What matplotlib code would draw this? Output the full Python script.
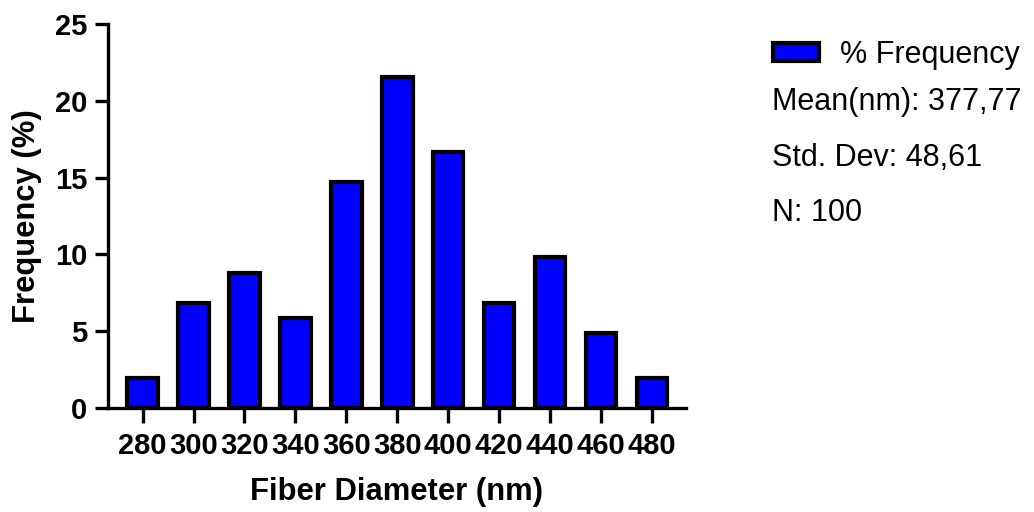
import matplotlib
matplotlib.use("Agg")
import matplotlib.pyplot as plt
from matplotlib.patches import Patch

plt.rcParams['font.family'] = ['Liberation Sans', 'DejaVu Sans']

categories = ["280", "300", "320", "340", "360", "380", "400", "420", "440", "460", "480"]
frequency = [1.96, 6.86, 8.82, 5.88, 14.71, 21.57, 16.67, 6.86, 9.80, 4.90, 1.96]
y_ticks = [0, 5, 10, 15, 20, 25]
stats_lines = ["Mean(nm): 377,77", "Std. Dev: 48,61", "N: 100"]
legend_label = "% Frequency"

W, H = 1034, 512
fig = plt.figure(figsize=(W / 100, H / 100), dpi=100)
ax = fig.add_axes([108 / W, 1 - 408 / H, (686 - 108) / W, (408 - 24) / H])

x = list(range(len(categories)))
ax.bar(x, frequency, width=0.6, color="#0000ff", edgecolor="black", linewidth=3.0, zorder=2)

ax.set_xlim(-0.68, 10.67)
ax.set_ylim(0, 25)
ax.set_xticks(x)
ax.set_xticklabels(categories)
ax.set_yticks(y_ticks)

for s in ["top", "right"]:
    ax.spines[s].set_visible(False)
for s in ["left", "bottom"]:
    ax.spines[s].set_linewidth(2.4)
    ax.spines[s].set_capstyle("projecting")

ax.tick_params(axis="y", length=9.5, width=2.4, pad=5.5, labelsize=21)
ax.tick_params(axis="x", length=10.5, width=2.4, pad=7, labelsize=21)
for lab in ax.get_xticklabels() + ax.get_yticklabels():
    lab.set_fontweight("bold")

ax.set_xlabel("Fiber Diameter (nm)", fontsize=22.3, fontweight="bold", labelpad=12)
ax.set_ylabel("Frequency (%)", fontsize=22.3, fontweight="bold", labelpad=9)

handle = Patch(facecolor="#0000ff", edgecolor="black", linewidth=3.0)
fig.legend([handle], [legend_label], loc="center left",
           bbox_to_anchor=(773 / W, 1 - 55 / H), bbox_transform=fig.transFigure,
           frameon=False, borderpad=0, borderaxespad=0,
           handlelength=1.5, handleheight=0.55, handletextpad=0.7,
           prop={"size": 22})

for i, line in enumerate(stats_lines):
    fig.text(772 / W, 1 - (102 + 55.5 * i) / H, line, fontsize=22,
             ha="left", va="center")

fig.savefig("out.png", dpi=100)
